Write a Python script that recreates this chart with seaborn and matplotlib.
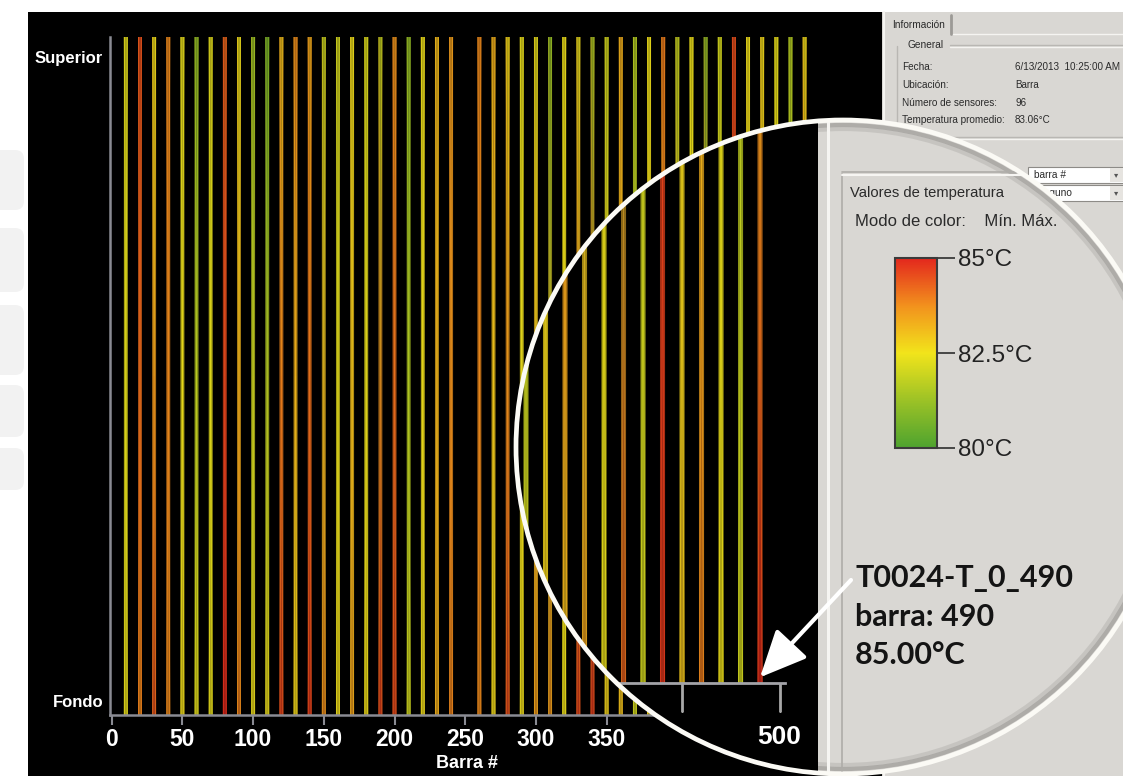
import numpy as np
import pandas as pd
import matplotlib
matplotlib.use("Agg")
import matplotlib.pyplot as plt
from matplotlib.patches import Circle, Rectangle, FancyBboxPatch
from matplotlib.colors import Normalize
from matplotlib.cm import ScalarMappable
from matplotlib.ticker import FixedLocator
import seaborn as sns

# Bar positions and the two sensor readings (top / bottom) of every bar, in degC
barra = [10, 20, 30, 40, 50, 60, 70, 80, 90, 100, 110, 120,
         130, 140, 150, 160, 170, 180, 190, 200, 210, 220, 230, 240,
         260, 270, 280, 290, 300, 310, 320, 330, 340, 350, 360, 370,
         380, 390, 400, 410, 420, 430, 440, 450, 460, 470, 480, 490]
temp_superior = [82.3, 84.5, 82.5, 83.8, 82.4, 81.1, 82.3, 84.2, 82.4, 81.3, 80.7, 83.0,
                 83.8, 83.3, 81.9, 82.0, 82.5, 82.2, 81.8, 83.6, 81.1, 82.5, 83.1, 83.5,
                 83.8, 83.3, 82.6, 82.4, 82.3, 81.1, 82.5, 82.3, 81.5, 82.0, 83.3, 81.6,
                 82.5, 84.0, 81.8, 82.5, 81.1, 82.1, 84.5, 82.5, 82.6, 82.4, 81.6, 82.5]
temp_fondo = [82.4, 83.8, 84.5, 83.8, 82.6, 82.4, 82.4, 85.0, 84.0, 82.6, 82.6, 84.7,
              82.6, 84.8, 83.8, 82.6, 83.5, 82.6, 84.7, 84.6, 82.1, 82.6, 83.3, 83.9,
              83.8, 82.6, 84.6, 82.6, 83.6, 83.7, 82.5, 84.7, 84.8, 82.8, 83.0, 82.1,
              82.8, 83.0, 83.5, 82.4, 84.3, 82.1, 84.8, 83.0, 84.0, 82.5, 82.1, 85.0]

ticks_barra = [0, 50, 100, 150, 200, 250, 300, 350]
ticks_lupa = [450, 500]
escala_temp = [80.0, 82.5, 85.0]
colores_escala = ["#4ea32f", "#9cc226", "#f2e41b", "#f2911d", "#e3271d"]

info_campos = ["Fecha:", "Ubicación:", "Número de sensores:", "Temperatura promedio:"]
info_valores = ["6/13/2013  10:25:00 AM", "Barra", "96", "83.06°C"]

PANEL_GREY = "#d9d7d3"
AXIS_GREY = "#8a8b93"
TEXT_DARK = "#2a2a2a"

sns.set_theme(style="dark")
plt.rcParams["font.family"] = ["Liberation Sans", "DejaVu Sans"]

W, H = 1123, 776
fig = plt.figure(figsize=(W / 100, H / 100), dpi=100, facecolor="white")


def frac(left, top, width, height):
    """Pixel box measured from the top-left corner -> figure fraction rect."""
    return [left / W, (H - top - height) / H, width / W, height / H]


def pixel_axes(z):
    ax = fig.add_axes([0, 0, 1, 1], zorder=z)
    ax.set_xlim(0, W)
    ax.set_ylim(H, 0)
    ax.set_axis_off()
    return ax


cmap = sns.blend_palette(colores_escala, as_cmap=True)
norm = Normalize(escala_temp[0], escala_temp[-1])
df = pd.DataFrame({"barra": barra, "superior": temp_superior, "fondo": temp_fondo})


def draw_bars(ax, width=2.1, alpha=0.72):
    """Each bar is one quad shaded from its bottom sensor to its top sensor."""
    ax.set_autoscale_on(False)
    meshes = []
    for row in df.itertuples(index=False):
        x0, x1 = row.barra - width / 2, row.barra + width / 2
        X = np.array([[x0, x1], [x0, x1]])
        Y = np.array([[0.0, 0.0], [1.0, 1.0]])
        C = np.array([[row.fondo, row.fondo], [row.superior, row.superior]])
        meshes.append(ax.pcolormesh(X, Y, C, shading="gouraud", cmap=cmap,
                                    norm=norm, alpha=alpha, edgecolors="none"))
    return meshes


# ---------------------------------------------------------------- background
bg = pixel_axes(0)
bg.add_patch(Rectangle((28, 12), 856, 770, fc="black", ec="none"))
bg.add_patch(Rectangle((882, 12), 245, 770, fc=PANEL_GREY, ec="none"))
for top_px, h in [(150, 60), (228, 64), (305, 70), (385, 52), (448, 42)]:
    bg.add_patch(FancyBboxPatch((-12, top_px), 36, h,
                                boxstyle="round,pad=0,rounding_size=9",
                                fc="#f2f2f2", ec="none"))

# information panel frame
bg.plot([884, 884], [12, 776], color="#f5f4f1", lw=1.5)
bg.plot([951, 951], [15, 34], color="#9c9a96", lw=2)
bg.plot([953, 1123], [34, 34], color="#f5f4f1", lw=1)
bg.plot([950, 1123], [45, 45], color="#b9b7b3", lw=1)
bg.plot([950, 1123], [46.5, 46.5], color="#f5f4f1", lw=1)
bg.plot([897, 897], [46, 137], color="#b9b7b3", lw=1)
bg.plot([897, 1123], [137, 137], color="#b9b7b3", lw=1)
bg.plot([897, 1123], [138.5, 138.5], color="#f5f4f1", lw=1)

bg.text(892, 25, "Información", fontsize=7.3, color=TEXT_DARK, va="center")
bg.text(908, 45, "General", fontsize=7.3, color=TEXT_DARK, va="center")
for i, (campo, valor) in enumerate(zip(info_campos, info_valores)):
    y = 67 + 17.8 * i
    bg.text(902, y, campo, fontsize=7.2, color=TEXT_DARK, va="center")
    bg.text(1015, y, valor, fontsize=7.1, color=TEXT_DARK, va="center")

for top_px, label in [(167, "barra #"), (185, "Ninguno")]:
    bg.add_patch(Rectangle((1028, top_px), 100, 16, fc="white", ec="#8d8b87", lw=0.8))
    bg.add_patch(Rectangle((1110, top_px + 1), 13, 14, fc="#e6e4e0", ec="none"))
    bg.text(1034, top_px + 8, label, fontsize=7.3, color=TEXT_DARK, va="center")
    bg.text(1116, top_px + 8, "▾", family=["DejaVu Sans"], fontsize=6, color="#555555",
            va="center", ha="center")

# ---------------------------------------------------------------- main chart
ax = fig.add_axes(frac(110, 37, 713, 678), zorder=1)
ax.set_facecolor("none")
ax.grid(False)
ax.set_xlim(-1.2, 503)
ax.set_ylim(0, 1)
draw_bars(ax)
for side in ("top", "right"):
    ax.spines[side].set_visible(False)
for side in ("left", "bottom"):
    ax.spines[side].set_color(AXIS_GREY)
    ax.spines[side].set_linewidth(1.8)
ax.set_xticks(ticks_barra)
ax.set_xticklabels([str(t) for t in ticks_barra], fontweight="bold")
ax.tick_params(axis="x", bottom=True, direction="out", length=7.5, width=1.5,
               color=AXIS_GREY, pad=2, labelsize=16.5, labelcolor="white")
ax.set_yticks([0.02, 0.97])
ax.set_yticklabels(["Fondo", "Superior"], fontweight="bold")
ax.tick_params(axis="y", left=True, length=0, pad=5, labelsize=12, labelcolor="white")
ax.set_xlabel("Barra #", color="white", fontsize=13, fontweight="bold", labelpad=2.5)

# ---------------------------------------------------------------- magnifier lens
CX, CY, R = 843, 447, 327
lens = pixel_axes(2)
clip = Circle((CX, CY), R, transform=lens.transData)
lens.add_patch(Circle((CX, CY), R, fc="black", ec="none"))
panel = Rectangle((818, 90), 420, 720, fc=PANEL_GREY, ec="none")
lens.add_patch(panel)
panel.set_clip_path(clip)
panel_clip = Rectangle((818, 90), 420, 720, transform=lens.transData)

for xs, ys, col, lw in [([828, 828], [90, 800], "#f6f5f2", 2.2),
                        ([842, 842], [174, 800], "#aeaca8", 1.2),
                        ([842, 1130], [172, 172], "#aeaca8", 1.2),
                        ([842, 1130], [174.5, 174.5], "#f6f5f2", 1.5)]:
    ln, = lens.plot(xs, ys, color=col, lw=lw)
    ln.set_clip_path(clip)

# soft shadow just inside the rim, visible on the grey panel
for dr, a in [(5, 0.35), (9, 0.15)]:
    sh = Circle((CX, CY), R - dr, fill=False, ec="#5f5d5a", lw=3, alpha=a)
    lens.add_patch(sh)
    sh.set_clip_path(panel_clip)

lens.text(850, 193, "Valores de temperatura", fontsize=10.6, color=TEXT_DARK, va="center")
lens.text(855, 221, "Modo de color:    Mín. Máx.", fontsize=12, color=TEXT_DARK,
          va="center")

# colour scale
cax = fig.add_axes(frac(895, 258, 42, 190), zorder=3)
cb = fig.colorbar(ScalarMappable(norm=norm, cmap=cmap), cax=cax)
cb.outline.set_edgecolor("#3b3b3b")
cb.outline.set_linewidth(1.5)
cb.set_ticks(escala_temp, labels=[f"{v:g}°C" for v in escala_temp])
cax.yaxis.set_minor_locator(FixedLocator([escala_temp[0], escala_temp[-1]]))
cax.tick_params(which="major", left=False, right=True, labelleft=False, labelright=True,
                length=13, width=1.3, color="#3b3b3b", labelsize=17.5,
                labelcolor="#222222", pad=2)
cax.tick_params(which="minor", left=True, right=False, length=13, width=1.3,
                color="#3b3b3b")

# magnified view of the last bars
mag = fig.add_axes(frac(516, 120, 269, 654), zorder=4)
mag.set_facecolor("none")
mag.grid(False)
mag.set_xlim(364.87, 502.8)
mag.set_ylim(-0.0965, 0.597)
for mesh in draw_bars(mag):
    mesh.set_clip_path(clip)
for side in ("top", "right", "left"):
    mag.spines[side].set_visible(False)
mag.spines["bottom"].set_position(("data", 0))
mag.spines["bottom"].set_color("#a3a3a8")
mag.spines["bottom"].set_linewidth(2)
mag.spines["bottom"].set_clip_path(clip)
mag.set_yticks([])
mag.set_xticks(ticks_lupa)
mag.set_xticklabels(["" if t != 500 else str(t) for t in ticks_lupa], fontweight="bold")
mag.tick_params(axis="x", bottom=True, direction="out", length=21, width=2,
                color="#a8a8a8", pad=9.5, labelsize=19, labelcolor="white")
for t in mag.xaxis.get_major_ticks():
    t.tick1line.set_clip_path(clip)
    t.label1.set_clip_path(clip)

top = pixel_axes(5)
top.add_patch(Circle((CX, CY), R, fill=False, ec="#fbfaf5", lw=3.4))

mag.annotate("", xy=(barra[-1], 0.006), xycoords="data",
             xytext=(851, 580), textcoords=top.transData,
             arrowprops=dict(arrowstyle="-|>,head_length=1.2,head_width=0.55",
                             color="white", lw=3, mutation_scale=24,
                             shrinkA=0, shrinkB=0),
             annotation_clip=False)

for i, line in enumerate([f"T0024-T_0_{barra[-1]}", f"barra: {barra[-1]}",
                          f"{temp_fondo[-1]:.2f}°C"]):
    top.text(855, 578 + 38.5 * i, line, family=["Lato", "DejaVu Sans"],
             fontweight="bold", fontsize=22, color="#141414", va="center", ha="left")

fig.savefig("out.png", dpi=100, facecolor="white")
